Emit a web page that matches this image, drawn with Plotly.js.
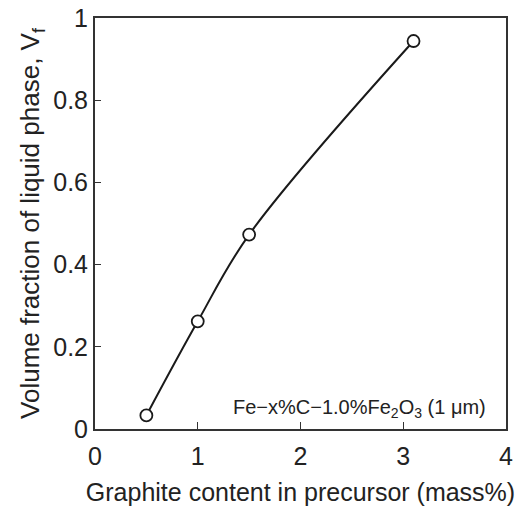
<!DOCTYPE html>
<html>
<head>
<meta charset="utf-8">
<script src="https://cdn.plot.ly/plotly-3.0.1.min.js"></script>
<style>html,body{margin:0;padding:0;background:#fff;}#chart{width:530px;height:511px;}</style>
</head>
<body>
<div id="chart"></div>
<script>
const graphite = [0.5, 1.0, 1.5, 3.1];
const vf = [0.033, 0.262, 0.473, 0.944];
const xTicks = [0, 1, 2, 3, 4];
const yTicks = [0, 0.2, 0.4, 0.6, 0.8, 1];
const yTickText = ['0', '0.2', '0.4', '0.6', '0.8', '1'];
const noteText = 'Fe\u2212x%C\u22121.0%Fe<sub>2</sub>O<sub>3</sub> (1 \u03bcm)';

const font = 'Liberation Sans, Arial, sans-serif';
const trace = {
  x: graphite, y: vf, mode: 'lines+markers', type: 'scatter',
  line: {color: '#1a1a1a', width: 2, shape: 'spline', smoothing: 1},
  marker: {symbol: 'circle', size: 12, color: '#ffffff', line: {color: '#1a1a1a', width: 1.8}},
  cliponaxis: false, hoverinfo: 'none'
};
const layout = {
  width: 530, height: 511,
  margin: {l: 95, r: 24, t: 18, b: 82},
  paper_bgcolor: '#fff', plot_bgcolor: '#fff',
  showlegend: false,
  font: {family: font, color: '#222'},
  xaxis: {
    range: [0, 4], tickvals: xTicks, ticktext: xTicks.map(String),
    ticks: 'inside', ticklen: 7, tickwidth: 1, tickcolor: '#333',
    showline: true, linecolor: '#333', linewidth: 2, mirror: true,
    showgrid: false, zeroline: false, ticklabelstandoff: 4,
    tickfont: {size: 25, family: font, color: '#222'},
    title: {text: 'Graphite content in precursor (mass%)', font: {size: 25, family: font, color: '#222'}, standoff: 14}
  },
  yaxis: {
    range: [0, 1], tickvals: yTicks, ticktext: yTickText,
    ticks: 'inside', ticklen: 6, tickwidth: 1, tickcolor: '#333',
    showline: true, linecolor: '#333', linewidth: 2, mirror: true,
    showgrid: false, zeroline: false,
    tickfont: {size: 25, family: font, color: '#222'},
    title: {text: 'Volume fraction of liquid phase, V<sub>f</sub>', font: {size: 26, family: font, color: '#222'}, standoff: 6}
  },
  annotations: [{
    text: noteText, xref: 'x', yref: 'y', x: 3.82, y: 0.05,
    xanchor: 'right', yanchor: 'middle', showarrow: false,
    font: {size: 20, family: font, color: '#222'}
  }]
};
Plotly.newPlot('chart', [trace], layout, {staticPlot: true, displayModeBar: false});
</script>
</body>
</html>
